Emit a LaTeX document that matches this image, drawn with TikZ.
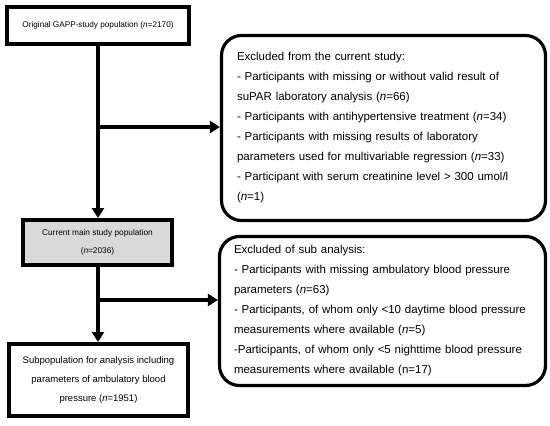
\documentclass[tikz,border=0pt]{standalone}
\usepackage{fontspec}
\setmainfont{Liberation Sans}
\usetikzlibrary{arrows.meta}
\begin{document}
\begin{tikzpicture}[x=1pt,y=-1pt,
  popbox/.style={draw=black,line width=4pt,inner sep=0pt,align=center},
  exbox/.style={draw=black,line width=3.2pt,rounded corners=20pt,inner sep=0pt,align=left},
  arr/.style={line width=3.8pt,-{Triangle[width=12pt,length=10pt]}}]
\useasboundingbox (0,0) rectangle (550,426);
\node[popbox,minimum width=182pt,minimum height=37pt,font=\fontsize{8.2}{12}\selectfont] (b1) at (98,25) {Original GAPP-study population (\textit{n}=2170)};
\node[popbox,fill=gray!30,minimum width=149pt,minimum height=45pt,font=\fontsize{8.3}{18}\selectfont] (b2) at (97.5,242.5) {Current main study population\\(\textit{n}=2036)};
\node[popbox,minimum width=179pt,minimum height=72pt,font=\fontsize{9.5}{19}\selectfont] (b3) at (98.5,380) {Subpopulation for analysis including\\parameters of ambulatory blood\\pressure (\textit{n}=1951)};
\node[exbox,minimum width=324pt,minimum height=185pt,text width=293pt,font=\fontsize{11.5}{20}\selectfont] (r1) at (383.5,128) {Excluded from the current study:\\
- Participants with missing or without valid result of\\
suPAR laboratory analysis (\textit{n}=66)\\
- Participants with antihypertensive treatment (\textit{n}=34)\\
- Participants with missing results of laboratory\\
parameters used for multivariable regression (\textit{n}=33)\\
- Participant with serum creatinine level > 300 umol/l\\
(\textit{n}=1)};
\node[exbox,minimum width=326pt,minimum height=149pt,text width=297pt,font=\fontsize{11.5}{20}\selectfont] (r2) at (382.5,311) {Excluded of sub analysis:\\
- Participants with missing ambulatory blood pressure\\
parameters (\textit{n}=63)\\
- Participants, of whom only <10 daytime blood pressure\\
measurements where available (\textit{n}=5)\\
-Participants, of whom only <5 nighttime blood pressure\\
measurements where available (n=17)};
\coordinate (j1) at (98,127);
\coordinate (j2) at (98,300);
\draw[arr] (b1.south -| j1) -- (b2.north -| j1);
\draw[arr] (j1) -- (j1 -| r1.west);
\draw[arr] (b2.south -| j2) -- (b3.north -| j2);
\draw[arr] (j2) -- (j2 -| r2.west);
\end{tikzpicture}
\end{document}
